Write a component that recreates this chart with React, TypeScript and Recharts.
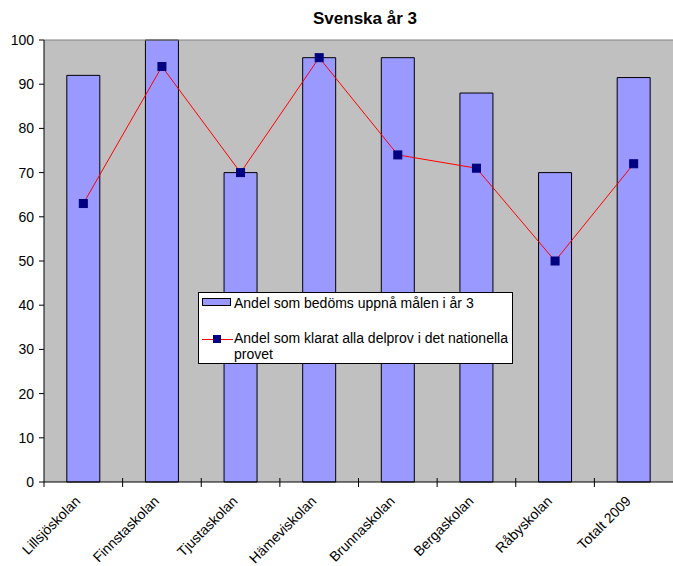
import React from "react";
import { ComposedChart, Bar, Line, XAxis, YAxis, CartesianGrid, ReferenceLine } from "recharts";

const categories = ["Lillsjöskolan", "Finnstaskolan", "Tjustaskolan", "Hämeviskolan", "Brunnaskolan", "Bergaskolan", "Råbyskolan", "Totalt 2009"];
const barValues = [92, 100, 70, 96, 96, 88, 70, 91.5];
const lineValues = [63, 94, 70, 96, 74, 71, 50, 72];
const yTicks = [0, 10, 20, 30, 40, 50, 60, 70, 80, 90, 100];
const barName = "Andel som bedöms uppnå målen i år 3";
const lineName = "Andel som klarat alla delprov i det nationella provet";
const title = "Svenska år 3";

const data = categories.map((c, i) => ({ name: c, bar: barValues[i], line: lineValues[i] }));

const FONT = "'Liberation Sans', Arial, sans-serif";
const CHART_W = 673;
const PLOT_LEFT = 44;
const BAND = (CHART_W - PLOT_LEFT) / categories.length;

const SquareDot = (props: any) => {
  const { cx, cy } = props;
  if (cx == null || cy == null) return null;
  return <rect x={cx - 4} y={cy - 4} width={8} height={8} fill="#000080" stroke="#000080" />;
};

const XTick = (props: any) => {
  const { x, y, payload, index } = props;
  const axisY = y - 2;
  const bx = x - BAND / 2;
  const tx = x - 2;
  const ty = y + 18;
  return (
    <g>
      {index === 0 ? (
        <line x1={bx} y1={axisY} x2={bx} y2={axisY + 5} stroke="#000" />
      ) : (
        <line x1={bx} y1={axisY - 4} x2={bx} y2={axisY + 5} stroke="#000" />
      )}
      <text x={tx} y={ty} transform={`rotate(-45, ${tx}, ${ty})`} textAnchor="end" fontSize={14} fontFamily={FONT} fill="#000">
        {payload.value}
      </text>
    </g>
  );
};

const LegendBox = () => (
  <div style={{ position: "absolute", left: 198, top: 292, width: 315, height: 72, border: "1px solid #000", background: "#fff", fontFamily: FONT, fontSize: 14, lineHeight: "16px", color: "#000", boxSizing: "border-box" }}>
    <div style={{ position: "absolute", left: 3, top: 5, width: 29, height: 8, background: "#9999FF", border: "1px solid #000", boxSizing: "border-box" }} />
    <div style={{ position: "absolute", left: 35, top: 2, whiteSpace: "nowrap" }}>{barName}</div>
    <div style={{ position: "absolute", left: 3, top: 46, width: 31, height: 1, background: "#FF0000" }} />
    <div style={{ position: "absolute", left: 14, top: 42, width: 8, height: 8, background: "#000080" }} />
    <div style={{ position: "absolute", left: 35, top: 37, width: 276 }}>{lineName}</div>
  </div>
);

export default function App() {
  return (
    <div style={{ position: "absolute", left: 0, top: 0, width: 673, height: 566, background: "#fff", overflow: "hidden" }}>
      <ComposedChart width={CHART_W} height={566} data={data} margin={{ top: 40, right: 0, bottom: 54, left: 0 }} barCategoryGap="29%">
        <CartesianGrid fill="#C0C0C0" horizontal={false} vertical={false} />
        <ReferenceLine y={100} stroke="#808080" strokeWidth={1} />
        <XAxis dataKey="name" height={30} tick={<XTick />} tickLine={false} axisLine={{ stroke: "#000" }} tickSize={0} tickMargin={2} interval={0} />
        <YAxis domain={[0, 100]} ticks={yTicks} width={PLOT_LEFT} tickSize={5} tickMargin={5} tick={{ fill: "#000", fontSize: 14, fontFamily: FONT }} tickLine={{ stroke: "#000" }} axisLine={{ stroke: "#000" }} />
        <Bar dataKey="bar" name={barName} fill="#9999FF" stroke="#000" strokeWidth={1} isAnimationActive={false} />
        <Line dataKey="line" name={lineName} stroke="#FF0000" strokeWidth={1} dot={<SquareDot />} activeDot={false} isAnimationActive={false} />
      </ComposedChart>
      <div style={{ position: "absolute", left: 0, top: 9, width: 730, textAlign: "center", fontFamily: FONT, fontSize: 17, fontWeight: "bold" }}>{title}</div>
      <LegendBox />
    </div>
  );
}
